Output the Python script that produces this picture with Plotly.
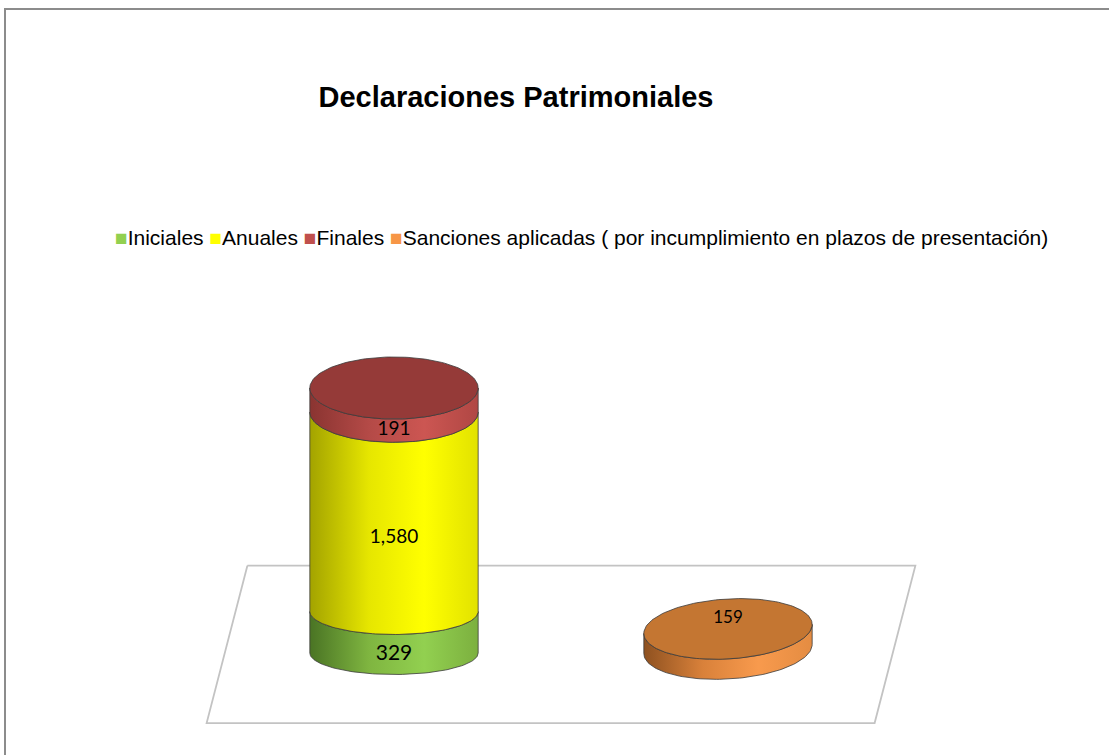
import numpy as np
import plotly.graph_objects as go

# ---------------- data ----------------
title_text = "Declaraciones Patrimoniales"
series_names = ["Iniciales", "Anuales", "Finales",
                "Sanciones aplicadas ( por incumplimiento en plazos de presentación)"]
series_category = [0, 0, 0, 1]          # which column each series is stacked in
series_values = [329, 1580, 191, 159]

# ---------------- style ----------------
W, H = 1109, 755
FONT = "Liberation Sans, Arial, sans-serif"
LABEL_FONT = "Lato, Open Sans, sans-serif"
side_colors = [
    ["#4a7424", "#7fb540", "#92d050", "#7cb03f"],
    ["#a3a300", "#e6e600", "#ffff00", "#e2e200"],
    ["#8a3431", "#b44a47", "#cc5652", "#b04744"],
    ["#8e5120", "#d9813a", "#f89a4d", "#e48c42"],
]
top_colors = ["#92d050", "#ffff00", "#953a38", "#c47632"]
legend_colors = ["#92d050", "#ffff00", "#c0504d", "#f79646"]
label_sizes = [21, 19, 19, 17]

# axis calibration (category units / value units per pixel)
CAT_PX = 334.0           # pixels per category step
CAT0_PX = 394.0          # pixel position of first category
BASE_PX = 653.0          # pixel row of the value-axis zero
YPP = 2100.0 / 265.0     # value units per pixel
X_RANGE = [-CAT0_PX / CAT_PX, (W - CAT0_PX) / CAT_PX]
Y_RANGE = [-(H - BASE_PX) * YPP, BASE_PX * YPP]

HALF_W = 0.252                   # cylinder half width (category units)
base_lift_px = [0.0, 4.0]        # perspective lift per category
ry_base_px = [21.5, 30.0]        # ellipse half-height at base
ry_grow = [0.036, 0.0]           # ellipse growth per pixel of height
shear_px = [0.0, 4.5]            # perspective tilt of ellipses
label_mode = ["front", "top"]

fig = go.Figure()

# floor
fx0, fx1, skew = -0.5, 1.5, 0.061
fc = 8.6 * YPP
fd = 78.7 * YPP
floor_x = [fx0 + skew, fx1 + skew, fx1 - skew, fx0 - skew, fx0 + skew]
floor_y = [fc + fd, fc + fd, fc - fd, fc - fd, fc + fd]
fig.add_trace(go.Scatter(x=floor_x, y=floor_y, mode="lines", fill="toself",
                         fillcolor="white", line=dict(color="#c3c3c3", width=1.8),
                         hoverinfo="skip", showlegend=False))


def ry_at(cat, h_val):
    return (ry_base_px[cat] + ry_grow[cat] * (h_val / YPP)) * YPP


def arc(cat, h, thetas):
    cx = float(cat)
    ry = ry_at(cat, h - base_lift_px[cat] * YPP)
    sh = shear_px[cat] * YPP
    xs = cx - HALF_W * np.cos(thetas)
    ys = h - ry * np.sin(thetas) + sh * (-np.cos(thetas))
    return xs, ys


stack = {}
labels_x, labels_y, labels_t, labels_s = [], [], [], []
top_series = {}
for i, c in enumerate(series_category):
    top_series[c] = i

for i, (name, c, v) in enumerate(zip(series_names, series_category, series_values)):
    b = stack.get(c, base_lift_px[c] * YPP)
    t = b + v
    stack[c] = t
    th = np.linspace(0, np.pi, 80)
    bx, by = arc(c, b, th)
    tx, ty = arc(c, t, th[::-1])
    px = np.concatenate([bx, tx, bx[:1]])
    py = np.concatenate([by, ty, by[:1]])
    cs = side_colors[i]
    fig.add_trace(go.Scatter(
        x=px, y=py, mode="lines", fill="toself",
        fillgradient=dict(type="horizontal",
                          colorscale=[[0, cs[0]], [0.35, cs[1]], [0.68, cs[2]], [1, cs[3]]]),
        line=dict(color="#3b3b3b", width=0.8),
        hoverinfo="skip", showlegend=False))
    if top_series[c] == i:
        th2 = np.linspace(0, 2 * np.pi, 160)
        ex, ey = arc(c, t, th2)
        fig.add_trace(go.Scatter(x=ex, y=ey, mode="lines", fill="toself",
                                 fillcolor=top_colors[i],
                                 line=dict(color="#3b3b3b", width=0.8),
                                 hoverinfo="skip", showlegend=False))
    mid = (b + t) / 2
    if label_mode[c] == "front":
        ly = mid - ry_at(c, mid - base_lift_px[c] * YPP)
    else:
        ly = t + 10 * YPP
    labels_x.append(float(c))
    labels_y.append(ly)
    labels_t.append(f"{v:,}")
    labels_s.append(label_sizes[i])

for x, y, t, s in zip(labels_x, labels_y, labels_t, labels_s):
    fig.add_trace(go.Scatter(x=[x], y=[y], mode="text", text=[t],
                             textfont=dict(family=LABEL_FONT, size=s, color="black"),
                             textposition="middle center",
                             hoverinfo="skip", showlegend=False))

# legend (built from series names and colours)
leg_fill = "".join(
    f"<span style='color:{col}'>■</span>{name}" + (" " if k < len(series_names) - 1 else "")
    for k, (name, col) in enumerate(zip(series_names, legend_colors)))
fig.add_annotation(text=leg_fill, xref="paper", yref="paper",
                   x=113 / W, y=1 - 237 / H, xanchor="left", yanchor="middle",
                   showarrow=False, font=dict(family=FONT, size=21, color="black"))

fig.update_layout(
    width=W, height=H,
    margin=dict(l=0, r=0, t=0, b=0),
    paper_bgcolor="white", plot_bgcolor="white",
    title=dict(text=f"<b>{title_text}</b>", x=516 / W, xanchor="center",
               y=1 - 97 / H, yanchor="middle",
               font=dict(family=FONT, size=29, color="black")),
    xaxis=dict(range=X_RANGE, visible=False, fixedrange=True),
    yaxis=dict(range=Y_RANGE, visible=False, fixedrange=True),
    showlegend=False,
    shapes=[dict(type="rect", xref="paper", yref="paper",
                 x0=5 / W, x1=1.02, y0=-0.02, y1=1 - 9 / H,
                 line=dict(color="#8c8c8c", width=2), layer="above")],
)

fig.write_html("out.html", config={"displayModeBar": False},
               post_script="document.body.style.margin='0';document.body.style.overflow='hidden';")
